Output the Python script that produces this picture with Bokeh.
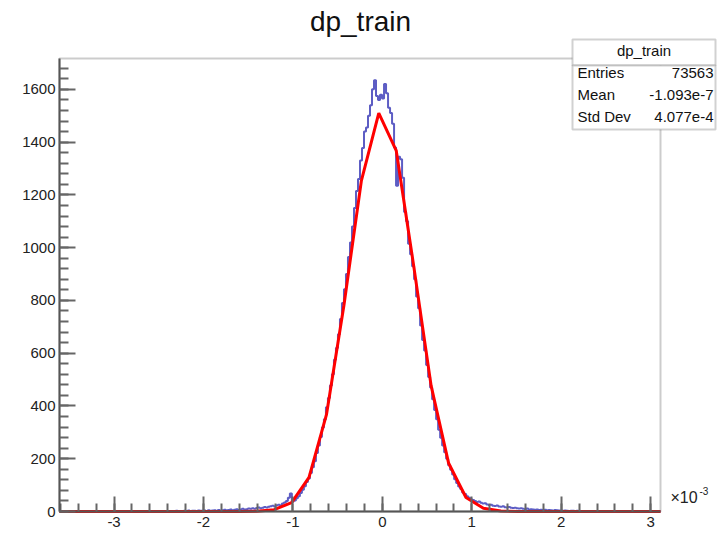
from bokeh.plotting import figure
from bokeh.models import Range1d, SingleIntervalTicker, Label, BoxAnnotation
from bokeh.embed import file_html
from bokeh.resources import INLINE

# ---------------- data ----------------
title_text = "dp_train"
x_min, x_max = -3.61, 3.11
y_max = 1717
bin_width = 0.0224

counts_left_tail = [
    0, 0, 0, 0, 0, 0, 0, 0, 0, 0, 0, 0, 1, 0, 0, 0, 0, 0, 0, 0,
    0, 0, 0, 0, 0, 0, 0, 1, 0, 0, 0, 0, 0, 0, 0, 0, 0, 0, 0, 0,
    0, 1, 0, 0, 1, 0, 2, 0, 1, 1, 0, 2, 1, 0, 2, 1,
    2, 1, 3, 2, 1, 2, 3, 2, 4, 2, 3, 3, 2, 4, 3, 3, 4, 2, 5, 3,
    4, 5, 3, 6, 4, 5, 7, 5, 6, 8, 5, 7, 9, 6, 8, 10, 8, 9, 11, 10,
    12, 10, 13, 15, 12, 14, 17, 15, 18, 20, 22, 19, 24, 26, 23, 30, 34, 40, 52, 68,
]
counts_core = [
    38, 42, 50, 58, 70, 82, 96, 112, 125, 146,
    168, 190, 222, 250, 282, 318, 350, 395, 430, 478,
    520, 575, 620, 672, 730, 790, 842, 900, 965, 1020,
    1080, 1150, 1215, 1260, 1330, 1378, 1440, 1455, 1500, 1540,
    1600, 1635, 1575, 1560, 1580, 1565, 1620, 1585, 1530, 1510,
    1470, 1380, 1235, 1345, 1335, 1265, 1135, 1100, 1015, 975,
    930, 880, 815, 770, 705, 650, 610, 555, 510, 470,
    425, 385, 350, 310, 280, 250, 225, 200, 175, 158,
    140, 122, 108, 95, 85, 72, 66, 58, 52, 46,
]
counts_right_tail = [
    44, 40, 36, 38, 33, 30, 31, 27, 25, 26, 22, 21, 23, 19, 18, 20, 16, 15, 17, 14, 13, 14,
    12, 11, 12, 10, 9, 11, 8, 9, 8, 7, 8, 6, 7, 6, 7, 5, 6, 5, 4, 6, 5, 4,
    4, 3, 4, 3, 2, 3, 3, 2, 3, 2, 1, 2, 2, 1, 2, 1, 1, 2, 1, 0, 1, 1,
    0, 1, 0, 0, 1, 0, 0, 0, 1, 0, 0, 0, 0, 1, 0, 0, 0, 0, 0, 0, 1, 0, 0, 0, 0, 0, 0, 0,
]
counts = counts_left_tail + counts_core + counts_right_tail

fit_x = [-3.61, -1.60, -1.405, -1.21, -1.015, -0.82, -0.625, -0.43, -0.235, -0.04,
         0.155, 0.35, 0.545, 0.74, 0.935, 1.13, 1.325, 1.52, 3.11]
fit_y = [0, 0.1, 1, 7, 34, 129, 367, 781, 1253, 1510,
         1368, 932, 477, 184, 53, 12, 2, 0.2, 0]

stats_names = ["Entries", "Mean", "Std Dev"]
stats_values = ["73563", "-1.093e-7", "4.077e-4"]
x_tick_values = [-3, -2, -1, 0, 1, 2, 3]
x_tick_labels = ["-3", "-2", "-1", "0", "1", "2", "3"]
x_scale_label = "\u00d710"
x_scale_exp = "-3"

# ---------------- geometry ----------------
FONT = "Liberation Sans"
W, H = 720, 537
PX_L, PX_R, PY_T, PY_B = 59, 660, 58, 511        # visible axes box (page px)
kx = (PX_R - PX_L) / (x_max - x_min)
ky = (PY_B - PY_T) / y_max

def dx(px):
    return x_min + (px - PX_L) / kx

def dy(py):
    return (PY_B - py) / ky

p = figure(width=W, height=H, output_backend="svg", toolbar_location=None, title=None,
           x_range=Range1d(dx(0), dx(W)), y_range=Range1d(dy(H), dy(0)),
           min_border=0)
p.background_fill_color = "white"
p.border_fill_color = "white"
p.xgrid.grid_line_color = None
p.ygrid.grid_line_color = None
p.outline_line_color = None

edges = [x_min + bin_width * i for i in range(len(counts) + 1)]
p.step(edges, counts + [counts[-1]], mode="after",
       line_color="#3535b5", line_width=2, line_alpha=0.8)
p.line(fit_x, fit_y, line_color="#ff0000", line_width=3)

axis_col = "#555555"
tick_col = "#666666"
for ax in (p.xaxis[0], p.yaxis[0]):
    ax.axis_line_color = axis_col
    ax.axis_line_width = 2
    ax.major_tick_line_color = tick_col
    ax.minor_tick_line_color = tick_col
    ax.major_tick_line_width = 2
    ax.minor_tick_line_width = 2
    ax.major_tick_out = 0
    ax.minor_tick_out = 0
    ax.major_label_text_font = FONT
    ax.major_label_text_font_size = "15px"
    ax.major_label_text_color = "#222222"

p.xaxis.fixed_location = 0
p.xaxis.bounds = (x_min, x_max)
p.xaxis.ticker = SingleIntervalTicker(interval=1, num_minor_ticks=5)
p.xaxis.major_tick_in = 15
p.xaxis.minor_tick_in = 8
p.xaxis.major_label_standoff = 5
p.xaxis.major_label_overrides = {v: s for v, s in zip(x_tick_values, x_tick_labels)}

p.yaxis.fixed_location = x_min
p.yaxis.bounds = (0, y_max)
p.yaxis.ticker = SingleIntervalTicker(interval=200, num_minor_ticks=5)
p.yaxis.major_tick_in = 16
p.yaxis.minor_tick_in = 9
p.yaxis.major_label_standoff = 4

# visible frame
p.add_layout(BoxAnnotation(left=x_min, right=x_max, bottom=0, top=y_max,
                           fill_alpha=0, line_color=axis_col, line_width=2,
                           level="annotation"))

# title
p.add_layout(Label(x=dx(360), y=dy(21), text=title_text, text_font=FONT,
                   text_font_size="28px", text_align="center",
                   text_baseline="alphabetic", text_color="#111111"))

# x exponent
p.add_layout(Label(x=dx(670), y=dy(497), text=x_scale_label, text_font=FONT,
                   text_font_size="16px", text_align="left",
                   text_baseline="alphabetic", text_color="#222222"))
p.add_layout(Label(x=dx(699), y=dy(490), text=x_scale_exp, text_font=FONT,
                   text_font_size="10px", text_align="left",
                   text_baseline="alphabetic", text_color="#222222"))

# stats box
bx0, bx1, by0, byh, by1 = 572, 715, 39, 65, 129
p.add_layout(BoxAnnotation(left=dx(bx0), right=dx(bx1), top=dy(by0), bottom=dy(byh),
                           fill_color="white", fill_alpha=1.0,
                           line_color="#666666", line_width=2, level="overlay"))
p.add_layout(BoxAnnotation(left=dx(bx0), right=dx(bx1), top=dy(byh), bottom=dy(by1),
                           fill_color="white", fill_alpha=1.0,
                           line_color="#666666", line_width=2, level="overlay"))
p.add_layout(Label(x=dx((bx0 + bx1) / 2), y=dy(50), text=title_text, text_font=FONT,
                   text_font_size="15px", text_align="center",
                   text_baseline="alphabetic", text_color="#111111", level="overlay"))
for k, (nm, val) in enumerate(zip(stats_names, stats_values)):
    base = 72 + 22 * k
    p.add_layout(Label(x=dx(577), y=dy(base), text=nm, text_font=FONT,
                       text_font_size="15px", text_align="left",
                       text_baseline="alphabetic", text_color="#111111", level="overlay"))
    p.add_layout(Label(x=dx(713), y=dy(base), text=val, text_font=FONT,
                       text_font_size="15px", text_align="right",
                       text_baseline="alphabetic", text_color="#111111", level="overlay"))

open("out.html", "w").write(file_html(p, INLINE))
